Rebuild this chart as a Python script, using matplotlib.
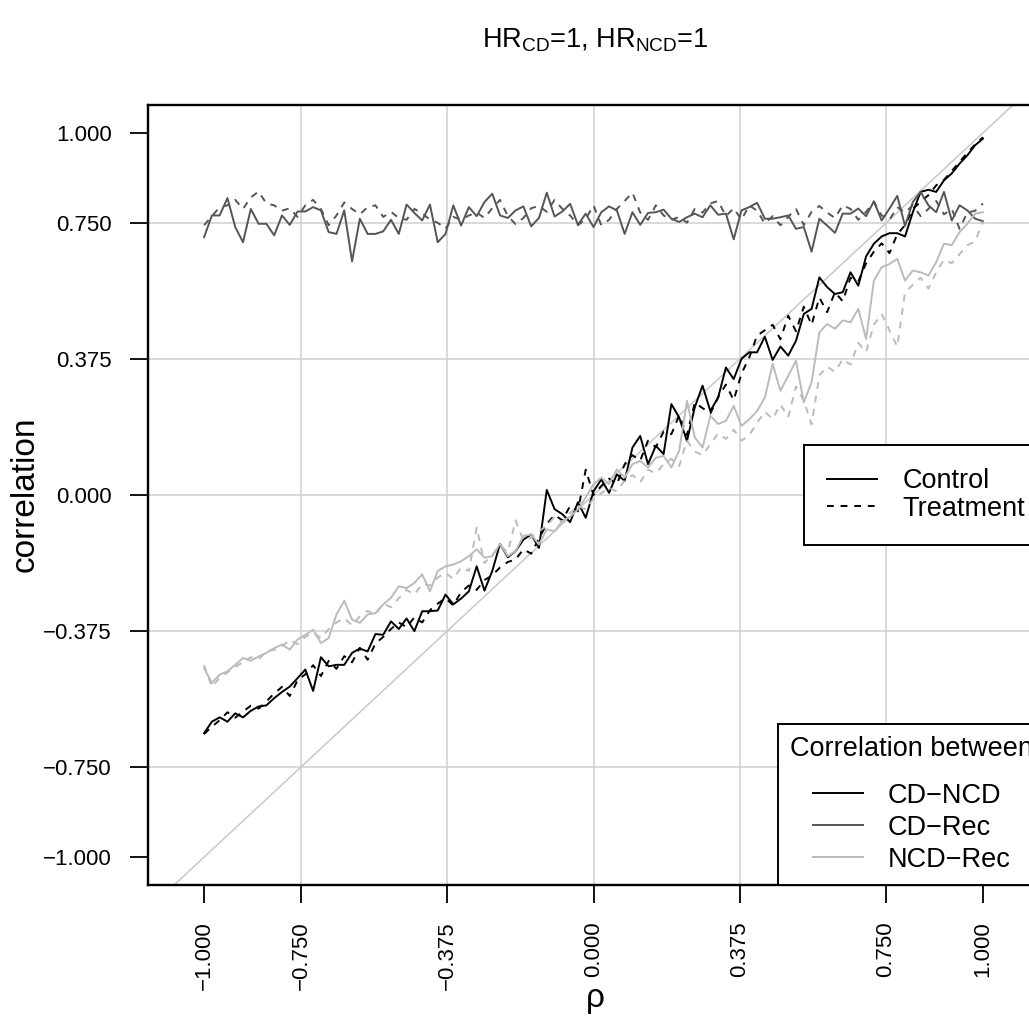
import numpy as np
import matplotlib
matplotlib.use("Agg")
import matplotlib.pyplot as plt
from matplotlib.lines import Line2D

plt.rcParams['font.family'] = ['Liberation Sans', 'DejaVu Sans']
plt.rcParams['mathtext.fontset'] = 'custom'
plt.rcParams['mathtext.rm'] = 'Liberation Sans'
plt.rcParams['axes.unicode_minus'] = True

# rho grid, 101 steps from -1 to 1
rho = np.linspace(-1, 1, 101)

# correlation CD-NCD
cd_ncd_control = [
    -0.658, -0.626, -0.614, -0.626, -0.603, -0.614, -0.596, -0.584, -0.581, -0.561,
    -0.544, -0.529, -0.506, -0.482, -0.541, -0.448, -0.473, -0.469, -0.469, -0.436,
    -0.424, -0.432, -0.384, -0.386, -0.349, -0.370, -0.341, -0.376, -0.321, -0.321,
    -0.319, -0.275, -0.302, -0.286, -0.266, -0.197, -0.264, -0.210, -0.135, -0.172,
    -0.155, -0.123, -0.109, -0.146, 0.014, -0.039, -0.053, -0.075, -0.020, -0.063,
    0.010, 0.043, 0.006, 0.057, 0.039, 0.131, 0.163, 0.085, 0.136, 0.113,
    0.251, 0.214, 0.149, 0.242, 0.302, 0.232, 0.269, 0.352, 0.320, 0.376,
    0.394, 0.394, 0.437, 0.373, 0.410, 0.385, 0.426, 0.500, 0.514, 0.601,
    0.574, 0.555, 0.560, 0.615, 0.578, 0.659, 0.694, 0.714, 0.723, 0.723,
    0.714, 0.781, 0.837, 0.843, 0.837, 0.869, 0.888, 0.915, 0.938, 0.966,
    0.984]
cd_ncd_treatment = [
    -0.660, -0.640, -0.622, -0.600, -0.615, -0.598, -0.582, -0.590, -0.570, -0.548,
    -0.530, -0.555, -0.512, -0.495, -0.470, -0.500, -0.458, -0.480, -0.445, -0.462,
    -0.422, -0.455, -0.410, -0.392, -0.370, -0.352, -0.365, -0.338, -0.352, -0.318,
    -0.300, -0.285, -0.305, -0.268, -0.250, -0.262, -0.235, -0.222, -0.200, -0.185,
    -0.178, -0.150, -0.162, -0.120, -0.080, -0.055, -0.070, -0.030, -0.045, 0.070,
    0.000, 0.025, 0.045, 0.030, 0.085, 0.110, 0.095, 0.150, 0.132, 0.175,
    0.168, 0.220, 0.165, 0.255, 0.240, 0.225, 0.270, 0.305, 0.262, 0.335,
    0.380, 0.440, 0.455, 0.470, 0.430, 0.495, 0.452, 0.520, 0.470, 0.545,
    0.505, 0.560, 0.535, 0.600, 0.590, 0.640, 0.672, 0.695, 0.668, 0.720,
    0.745, 0.790, 0.810, 0.828, 0.855, 0.870, 0.895, 0.920, 0.945, 0.968,
    0.988]

# correlation CD-Rec
cd_rec_control = [
    0.712, 0.772, 0.772, 0.820, 0.740, 0.698, 0.790, 0.749, 0.749, 0.717,
    0.772, 0.746, 0.783, 0.783, 0.795, 0.786, 0.726, 0.721, 0.786, 0.645,
    0.763, 0.721, 0.721, 0.728, 0.760, 0.721, 0.802, 0.779, 0.758, 0.802,
    0.698, 0.721, 0.800, 0.744, 0.795, 0.770, 0.809, 0.832, 0.772, 0.765,
    0.786, 0.797, 0.742, 0.765, 0.835, 0.769, 0.783, 0.804, 0.746, 0.777,
    0.740, 0.781, 0.797, 0.786, 0.721, 0.781, 0.746, 0.779, 0.781, 0.788,
    0.763, 0.754, 0.767, 0.777, 0.767, 0.800, 0.774, 0.777, 0.706, 0.786,
    0.795, 0.807, 0.763, 0.763, 0.767, 0.772, 0.735, 0.740, 0.672, 0.763,
    0.744, 0.724, 0.777, 0.777, 0.791, 0.770, 0.811, 0.758, 0.791, 0.826,
    0.743, 0.809, 0.837, 0.800, 0.781, 0.837, 0.758, 0.800, 0.786, 0.763,
    0.756]
cd_rec_treatment = [
    0.745, 0.770, 0.795, 0.800, 0.815, 0.790, 0.822, 0.838, 0.805, 0.800,
    0.785, 0.792, 0.768, 0.800, 0.815, 0.790, 0.745, 0.772, 0.808, 0.790,
    0.775, 0.795, 0.800, 0.768, 0.782, 0.765, 0.760, 0.790, 0.778, 0.760,
    0.752, 0.735, 0.768, 0.760, 0.772, 0.780, 0.765, 0.792, 0.815, 0.770,
    0.748, 0.765, 0.792, 0.798, 0.782, 0.815, 0.790, 0.772, 0.745, 0.762,
    0.800, 0.745, 0.760, 0.790, 0.812, 0.835, 0.780, 0.760, 0.800, 0.772,
    0.760, 0.768, 0.752, 0.790, 0.780, 0.805, 0.812, 0.770, 0.792, 0.760,
    0.800, 0.785, 0.750, 0.770, 0.745, 0.768, 0.790, 0.745, 0.782, 0.798,
    0.780, 0.765, 0.800, 0.790, 0.760, 0.782, 0.810, 0.772, 0.760, 0.795,
    0.780, 0.800, 0.770, 0.790, 0.812, 0.775, 0.790, 0.735, 0.780, 0.785,
    0.805]

# correlation NCD-Rec
ncd_rec_control = [
    -0.478, -0.519, -0.496, -0.487, -0.469, -0.450, -0.458, -0.446, -0.436, -0.423,
    -0.413, -0.427, -0.399, -0.386, -0.372, -0.409, -0.395, -0.330, -0.292, -0.344,
    -0.353, -0.330, -0.326, -0.302, -0.284, -0.252, -0.257, -0.243, -0.219, -0.266,
    -0.210, -0.197, -0.192, -0.183, -0.169, -0.150, -0.173, -0.169, -0.135, -0.169,
    -0.155, -0.113, -0.109, -0.137, -0.095, -0.100, -0.072, -0.060, -0.040, -0.007,
    0.030, 0.048, 0.030, 0.071, 0.048, 0.085, 0.094, 0.076, 0.103, 0.108,
    0.076, 0.122, 0.260, 0.159, 0.131, 0.219, 0.196, 0.205, 0.246, 0.191,
    0.209, 0.232, 0.269, 0.362, 0.288, 0.329, 0.371, 0.256, 0.311, 0.449,
    0.472, 0.459, 0.482, 0.477, 0.514, 0.431, 0.592, 0.629, 0.638, 0.652,
    0.592, 0.620, 0.615, 0.606, 0.643, 0.694, 0.690, 0.726, 0.749, 0.777,
    0.781]
ncd_rec_treatment = [
    -0.470, -0.530, -0.505, -0.490, -0.475, -0.462, -0.448, -0.455, -0.430, -0.428,
    -0.418, -0.400, -0.412, -0.392, -0.380, -0.395, -0.370, -0.352, -0.340, -0.360,
    -0.335, -0.320, -0.330, -0.300, -0.310, -0.285, -0.262, -0.275, -0.245, -0.250,
    -0.228, -0.215, -0.232, -0.200, -0.210, -0.090, -0.188, -0.165, -0.140, -0.158,
    -0.070, -0.125, -0.118, -0.100, -0.085, -0.060, -0.075, -0.050, -0.030, -0.040,
    -0.010, 0.005, 0.020, 0.010, 0.040, 0.055, 0.035, 0.070, 0.060, 0.085,
    0.100, 0.080, 0.150, 0.120, 0.110, 0.140, 0.170, 0.155, 0.180, 0.150,
    0.165, 0.200, 0.230, 0.210, 0.250, 0.215, 0.300, 0.260, 0.195, 0.330,
    0.355, 0.340, 0.375, 0.360, 0.420, 0.395, 0.470, 0.500, 0.455, 0.410,
    0.560, 0.580, 0.600, 0.570, 0.615, 0.650, 0.640, 0.665, 0.690, 0.700,
    0.755]

tick_values = [-1.0, -0.75, -0.375, 0.0, 0.375, 0.75, 1.0]
grid_values = [-0.75, -0.375, 0.0, 0.375, 0.75]
pair_names = ['CD\u2212NCD', 'CD\u2212Rec', 'NCD\u2212Rec']
pair_colors = ['#000000', '#555555', '#BBBBBB']
arm_names = ['Control', 'Treatment']

W, H = 1029, 1023
fig = plt.figure(figsize=(W / 100, H / 100), dpi=100)
ax = fig.add_axes([148 / W, (H - 885) / H, (1039 - 148) / W, (885 - 105) / H])
ax.set_xlim(-1.144, 1.144)
ax.set_ylim(-1.077, 1.077)

# reference grid and the identity line
for g in grid_values:
    ax.axhline(g, color='#D0D0D0', lw=1.1, zorder=1)
    ax.axvline(g, color='#D0D0D0', lw=1.1, zorder=1)
ax.axline((0, 0), slope=1, color='#C8C8C8', lw=1.1, zorder=1)

series = [(cd_ncd_control, cd_ncd_treatment),
          (cd_rec_control, cd_rec_treatment),
          (ncd_rec_control, ncd_rec_treatment)]
for (ctrl, trt), col in zip(series, pair_colors):
    ax.plot(rho, ctrl, color=col, lw=1.4, zorder=3)
    ax.plot(rho, trt, color=col, lw=1.4, dashes=(3.5, 3.5), zorder=3)

labels = [f"{v:.3f}".replace('-', '\u2212') for v in tick_values]
ax.set_xticks(tick_values)
ax.set_xticklabels(labels, rotation=90, fontsize=16)
ax.set_yticks(tick_values)
ax.set_yticklabels(labels, fontsize=16)
ax.tick_params(length=13, width=1.3, pad=13, color='black')
for s in ax.spines.values():
    s.set_linewidth(1.7)

fig.text(25 / W, 1 - 494 / H, 'correlation', rotation=90, fontsize=24,
         ha='center', va='center')
fig.text(595 / W, 1 - 998 / H, '\u03c1', fontsize=24, ha='center', va='center')
fig.text(595 / W, 1 - 40 / H, r'HR$_{\mathrm{CD}}$=1, HR$_{\mathrm{NCD}}$=1',
         fontsize=19.5, ha='center', va='center')

# legend for the two arms
arm_handles = [Line2D([], [], color='black', lw=1.4),
               Line2D([], [], color='black', lw=1.4, dashes=(3.5, 3.5))]
leg1 = ax.legend(arm_handles, arm_names, loc='center right',
                 bbox_to_anchor=(1.0105, 0.5), borderaxespad=0,
                 fontsize=19.5, frameon=True, fancybox=False, framealpha=1,
                 edgecolor='black', handlelength=1.85, handletextpad=0.95,
                 borderpad=0.85, labelspacing=0.05)
leg1.get_frame().set_linewidth(1.4)
ax.add_artist(leg1)

# legend for the correlation pairs
pair_handles = [Line2D([], [], color=c, lw=1.4) for c in pair_colors]
leg2 = ax.legend(pair_handles, pair_names, loc='lower right',
                 bbox_to_anchor=(1.007, 0.0), borderaxespad=0,
                 title='Correlation between', title_fontsize=19.5,
                 fontsize=19.5, frameon=True, fancybox=False, framealpha=1,
                 edgecolor='black', handlelength=1.85, handletextpad=0.9,
                 borderpad=0.45, labelspacing=0.22)
leg2.get_frame().set_linewidth(1.4)
leg2._legend_box.sep = 15

fig.savefig('out.png', dpi=100)
